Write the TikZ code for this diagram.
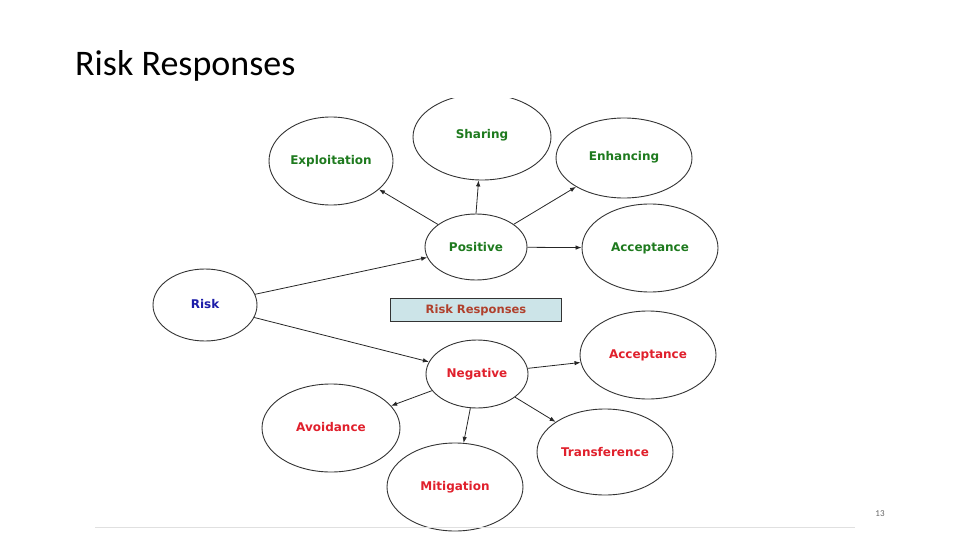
\documentclass[tikz,border=0pt]{standalone}
\usepackage{fontspec}
\setmainfont{Carlito}
\newfontfamily\diag{DejaVu Sans}
\usetikzlibrary{shapes.geometric,arrows.meta}
\definecolor{pg}{HTML}{1E7A1E}
\definecolor{nr}{HTML}{E0202C}
\definecolor{rb}{HTML}{1C1CA8}
\definecolor{boxf}{HTML}{CCE4E8}
\definecolor{boxt}{HTML}{B0402C}
\begin{document}
\begin{tikzpicture}[x=1pt,y=-1pt,
  el/.style={ellipse,draw=black!80,line width=0.9pt,inner sep=0pt,font=\diag\bfseries\fontsize{12}{14}\selectfont},
  posel/.style={el,text=pg}, negel/.style={el,text=nr},
  ar/.style={-{Latex[length=6pt,width=4.5pt]},line width=0.8pt,black!85}]
\useasboundingbox (0,0) rectangle (960,540);
\node[anchor=base west,inner sep=0pt,font=\fontsize{36}{40}\selectfont] (title) at (75,76) {Risk Responses};
\begin{scope}
\clip (200,99) rectangle (760,540);
\node[posel,minimum width=138pt,minimum height=86pt] (sh) at (482,137) {};
\end{scope}
\node[posel,draw=none] (sht) at (482,135) {Sharing};
\node[posel,minimum width=124pt,minimum height=88pt] (ex) at (331,161) {\raisebox{2pt}{Exploitation}};
\node[posel,minimum width=136pt,minimum height=80pt] (en) at (624,158) {\raisebox{4pt}{Enhancing}};
\node[posel,minimum width=102pt,minimum height=66pt] (po) at (476,247) {Positive};
\node[posel,minimum width=136pt,minimum height=88pt] (ac1) at (650,248) {Acceptance};
\node[el,text=rb,minimum width=104pt,minimum height=72pt] (ri) at (205,305) {\raisebox{2pt}{Risk}};
\node[draw=black!80,fill=boxf,line width=0.9pt,text=boxt,font=\diag\bfseries\fontsize{11.5}{13}\selectfont,minimum width=171pt,minimum height=23pt,inner sep=0pt] (rr) at (476,310) {Risk Responses};
\node[negel,minimum width=102pt,minimum height=68pt] (ne) at (477,374) {Negative};
\node[negel,minimum width=136pt,minimum height=88pt] (ac2) at (648,355) {\raisebox{2pt}{Acceptance}};
\node[negel,minimum width=138pt,minimum height=88pt] (av) at (331,428) {\raisebox{3pt}{Avoidance}};
\node[negel,minimum width=136pt,minimum height=88pt] (mi) at (455,487) {Mitigation};
\node[negel,minimum width=136pt,minimum height=86pt] (tr) at (605,452) {Transference};
\draw[ar] (ri) -- (po);
\draw[ar] (ri) -- (ne);
\draw[ar] (po) -- (ex);
\draw[ar] (po.north) -- (sh);
\draw[ar] (po) -- (en);
\draw[ar] (po) -- (ac1);
\draw[ar] (ne) -- (ac2);
\draw[ar] (ne) -- (av);
\draw[ar] (ne) -- (mi);
\draw[ar] (ne) -- (tr);
\coordinate (l1) at (95,527); \coordinate (l2) at (855,527);
\draw[black!12,line width=1pt] (l1) -- (l2);
\node[text=black!60,font=\fontsize{9}{10}\selectfont] (pn) at (880,514) {13};
\end{tikzpicture}
\end{document}
